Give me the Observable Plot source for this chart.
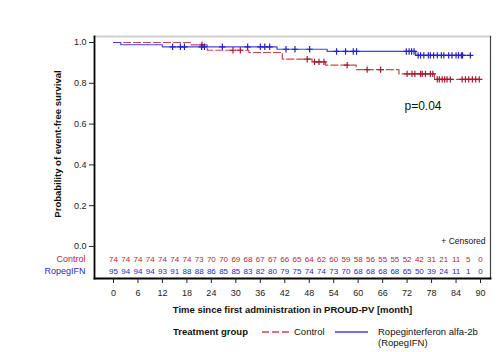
<!DOCTYPE html>
<html>
<head>
<meta charset="utf-8">
<script src="https://cdn.jsdelivr.net/npm/d3@7"></script>
<script src="https://cdn.jsdelivr.net/npm/@observablehq/plot@0.6"></script>
<style>
  body { margin: 0; background: #fff; font-family: "Liberation Sans", Arial, sans-serif; }
  #wrap { position: relative; width: 500px; height: 352px; }
  #legend { position: relative; width: 500px; height: 34px; }
  #legend .t { position: absolute; font-size: 9.5px; color: #111; line-height: 11px; white-space: nowrap; }
</style>
</head>
<body>
<div id="wrap">
  <div id="chart"></div>
  <div id="legend">
    <div class="t" style="left:173px;top:8px;font-weight:bold;">Treatment group</div>
    <svg style="position:absolute;left:0;top:0" width="500" height="34">
      <line x1="262" x2="290" y1="14" y2="14" stroke="#cc4455" stroke-width="1.3" stroke-dasharray="7,3"></line>
      <line x1="335" x2="368" y1="14" y2="14" stroke="#4444dd" stroke-width="1.3"></line>
    </svg>
    <div class="t" style="left:294px;top:8px;">Control</div>
    <div class="t" style="left:378px;top:8px;">Ropeginterferon alfa-2b</div>
    <div class="t" style="left:378px;top:19px;">(RopegIFN)</div>
  </div>
</div>
<script>
// ---- data ----
const xTicks = [0, 6, 12, 18, 24, 30, 36, 42, 48, 54, 60, 66, 72, 78, 84, 90];
const yTicks = [0, 0.2, 0.4, 0.6, 0.8, 1.0];
const riskMonths = [0,3,6,9,12,15,18,21,24,27,30,33,36,39,42,45,48,51,54,57,60,63,66,69,72,75,78,81,84,87,90];
const controlRisk = [74,74,74,74,74,74,74,73,70,70,69,68,67,67,66,65,64,62,60,59,58,56,55,55,52,42,31,21,11,5,0];
const ropegRisk   = [95,94,94,94,93,91,88,88,86,85,85,83,82,80,79,75,74,74,73,70,68,68,68,68,65,50,39,24,11,1,0];

const controlTime = [0, 19, 23, 33.2, 41.4, 48.7, 52, 59.5, 70, 78.7, 89.7];
const controlSurv = [1.0, 0.988, 0.962, 0.951, 0.918, 0.905, 0.889, 0.867, 0.846, 0.819, 0.819];
const ropegTime = [0, 1.8, 12, 40.1, 52.4, 74.1, 87.5];
const ropegSurv = [1.0, 0.989, 0.979, 0.967, 0.956, 0.937, 0.937];

const controlCensor = [21.7, 29.3, 31.1, 47.5, 49.3, 50.4, 51.6, 57.3, 62.2, 65.5, 72.0, 73.2, 73.9, 75.3, 75.7, 76.5, 77.7, 78.3, 79.4, 79.9, 80.6, 81.2, 81.8, 82.6, 85.5, 86.3, 87.1, 88.0, 88.8, 89.7];
const ropegCensor = [14.5, 16.4, 17.4, 21.6, 22.3, 26.7, 32.9, 36.0, 37.1, 38.3, 42.3, 44.5, 48.1, 54.7, 56.9, 58.8, 59.6, 71.8, 72.5, 73.1, 73.7, 74.7, 75.3, 76.1, 77.2, 77.7, 78.5, 79.4, 80.4, 81.0, 82.2, 83.0, 84.0, 84.6, 85.3, 85.6, 87.5];

const groups = ["Control", "RopegIFN"];
const pValue = "p=0.04";

// ---- build tables ----
const steps = (t, s) => t.map((x, i) => ({x, y: s[i]}));
const survAt = (t, s, x) => s[Math.max(0, d3.bisectRight(t, x) - 1)];
const controlSteps = steps(controlTime, controlSurv);
const ropegSteps = steps(ropegTime, ropegSurv);
const controlC = controlCensor.map(x => ({x, y: survAt(controlTime, controlSurv, x)}));
const ropegC = ropegCensor.map(x => ({x, y: survAt(ropegTime, ropegSurv, x)}));

const RED = "#cc4455", RED_D = "#a8182f", BLUE = "#4444dd", BLUE_D = "#2222c4";
const TXT_RED = "#b0283c", TXT_BLUE = "#2a2ab8";

const chart = Plot.plot({
  width: 500,
  height: 318,
  marginLeft: 94,
  marginRight: 10,
  marginTop: 36,
  marginBottom: 40,
  style: {fontFamily: "'Liberation Sans', Arial, sans-serif", fontSize: "9px", color: "#222", background: "#fff"},
  x: {domain: [-4.66, 92.45]},
  y: {domain: [-0.157, 1.0294]},
  marks: [
    Plot.frame({anchor: "top", stroke: "#cfcfcf", strokeWidth: 2, strokeOpacity: 1}),
    Plot.frame({anchor: "right", stroke: "#444", strokeWidth: 1.2, strokeOpacity: 1}),
    Plot.frame({anchor: "left", stroke: "#000", strokeWidth: 1.8, strokeOpacity: 1}),
    Plot.frame({anchor: "bottom", stroke: "#000", strokeWidth: 1.8, strokeOpacity: 1}),
    Plot.axisY({ticks: yTicks, tickFormat: d3.format(".1f"), tickSize: 5, tickPadding: 3, label: null, fontSize: 9, stroke: "#222"}),
    Plot.axisX({ticks: xTicks, tickSize: 5, tickPadding: 6, label: null, fontSize: 9, stroke: "#222"}),
    Plot.line(controlSteps, {x: "x", y: "y", curve: "step-after", stroke: RED, strokeWidth: 1.2, strokeDasharray: "7,3"}),
    Plot.line(ropegSteps, {x: "x", y: "y", curve: "step-after", stroke: BLUE, strokeWidth: 1.2}),
    Plot.dot(controlC, {x: "x", y: "y", symbol: "plus", r: 2.2, stroke: RED_D, strokeWidth: 1.2}),
    Plot.dot(ropegC, {x: "x", y: "y", symbol: "plus", r: 2.2, stroke: BLUE_D, strokeWidth: 1.2}),
    Plot.text(riskMonths, {x: d => d, text: (d, i) => String(controlRisk[i]), frameAnchor: "bottom", dy: -17, fill: TXT_RED, fontSize: 8}),
    Plot.text(riskMonths, {x: d => d, text: (d, i) => String(ropegRisk[i]), frameAnchor: "bottom", dy: -5, fill: TXT_BLUE, fontSize: 8}),
    Plot.text([groups[0]], {text: d => d, frameAnchor: "bottom-left", dx: -9, dy: -17, textAnchor: "end", fill: TXT_RED, fontSize: 9}),
    Plot.text([groups[1]], {text: d => d, frameAnchor: "bottom-left", dx: -9, dy: -5, textAnchor: "end", fill: TXT_BLUE, fontSize: 9}),
    Plot.text([pValue], {text: d => d, frameAnchor: "top-right", dx: -49, dy: 65, textAnchor: "end", fontSize: 12, fill: "#111"}),
    Plot.text(["+ Censored"], {text: d => d, frameAnchor: "bottom-right", dx: -5, dy: -35, textAnchor: "end", fontSize: 8.5, fill: "#111"}),
    Plot.text(["Time since first administration in PROUD-PV [month]"], {text: d => d, frameAnchor: "bottom", dy: 34, fontWeight: "bold", fontSize: 9.5, fill: "#111"}),
    Plot.text(["Probability of event-free survival"], {text: d => d, frameAnchor: "left", dx: -37, dy: -13.5, rotate: -90, textAnchor: "middle", fontWeight: "bold", fontSize: 9.5, fill: "#111"})
  ]
});
document.getElementById("chart").appendChild(chart);
</script>
</body>
</html>
